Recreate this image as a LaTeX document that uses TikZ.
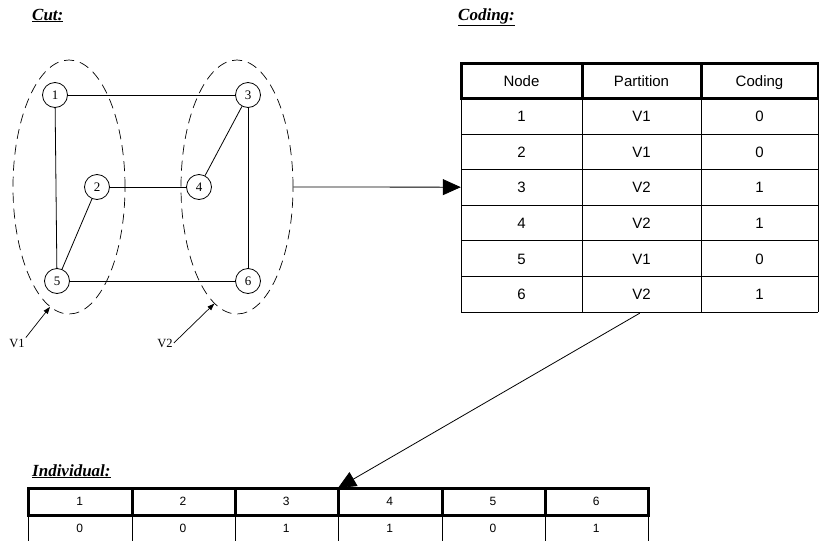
\documentclass[tikz,border=0pt]{standalone}
\usepackage{fontspec}
\setmainfont{Liberation Serif}
\newfontfamily\tabfont{Liberation Sans}
\usetikzlibrary{arrows.meta,shapes.geometric}
\begin{document}
\begin{tikzpicture}[x=1pt,y=-1pt,
  vert/.style={circle,draw,line width=0.8pt,minimum size=25pt,inner sep=0pt,text height=8.6pt,text depth=0pt,font=\fontsize{13}{13}\selectfont},
  edge/.style={line width=0.8pt},
  part/.style={ellipse,draw,dash pattern=on 10pt off 6pt,line width=0.7pt,inner sep=0pt},
  ttl/.style={anchor=base west,inner sep=0pt,font=\fontsize{17}{17}\selectfont\bfseries\itshape},
  cell/.style={inner sep=0pt,text height=11pt,text depth=0pt,font=\tabfont\fontsize{15}{15}\selectfont},
  icell/.style={inner sep=0pt,minimum width=103pt,minimum height=26.5pt,text height=8.8pt,text depth=0pt,font=\tabfont\fontsize{12}{12}\selectfont},
  thinline/.style={line width=1pt},
  heavy/.style={line width=3pt},
  bigarr/.style={-{Triangle[length=18pt,width=16pt]},line width=0.8pt},
  smallarr/.style={-{Triangle[length=7pt,width=5pt]},line width=0.7pt},
  lbl/.style={inner sep=1pt,font=\fontsize{12.5}{12.5}\selectfont}
]
\useasboundingbox (0,0) rectangle (819,541);

% titles
\node[ttl] (tcut) at (32,20) {\underline{Cut:}};
\node[ttl] (tcod) at (458,20) {\underline{Coding:}};
\node[ttl] (tind) at (32,476) {\underline{Individual:}};

% partitions
\node[part,minimum width=112pt,minimum height=254pt] (P1) at (69,187) {};
\node[part,minimum width=112pt,minimum height=254pt] (P2) at (237,187) {};

% graph nodes
\node[vert] (g1) at (55,95) {1};
\node[vert] (g3) at (248,95) {3};
\node[vert] (g2) at (97,187) {2};
\node[vert] (g4) at (199,187) {4};
\node[vert] (g5) at (57,281) {5};
\node[vert] (g6) at (248,281) {6};
\draw[edge] (g1) -- (g3);
\draw[edge] (g1) -- (g5);
\draw[edge] (g2) -- (g4);
\draw[edge] (g2) -- (g5);
\draw[edge] (g3) -- (g4);
\draw[edge] (g3) -- (g6);
\draw[edge] (g5) -- (g6);

% labels V1 V2
\node[lbl] (v1) at (17,343) {V1};
\node[lbl] (v2) at (165,343) {V2};
\draw[smallarr] (v1.north east) -- (P1.261);
\draw[smallarr] (v2.east) -- (P2.259);

% coding table
\draw[thinline] (461,98) -- (461,312) (582,98) -- (582,312) (701,98) -- (701,312) (818,98) -- (818,312);
\foreach \yy in {134,169.5,205,240.5,276,312}
  \draw[thinline] (461,\yy) -- (818,\yy);
\draw[heavy] (461,63) rectangle (818,98);
\draw[heavy] (582,63) -- (582,98) (701,63) -- (701,98);
\node[cell] (hn) at (521.5,81) {Node};
\node[cell] (hp) at (641.5,81) {Partition};
\node[cell] (hc) at (759.5,81) {Coding};
\foreach \r/\pp/\cc in {1/V1/0,2/V1/0,3/V2/1,4/V2/1,5/V1/0,6/V2/1}{
  \pgfmathsetmacro\yc{98+35.667*(\r-0.5)}
  \node[cell,minimum width=121pt,minimum height=35.6pt] (n\r) at (521.5,\yc) {\r};
  \node[cell,minimum width=119pt,minimum height=35.6pt] (p\r) at (641.5,\yc) {\pp};
  \node[cell,minimum width=117pt,minimum height=35.6pt] (c\r) at (759.5,\yc) {\cc};
}

% individual table
\draw[heavy] (28,488) rectangle (648,515);
\foreach \xx in {132,235,338,442,545}
  \draw[heavy] (\xx,488) -- (\xx,515);
\foreach \xx in {28,132,235,338,442,545,648}
  \draw[thinline] (\xx,515) -- (\xx,541);
\foreach \i/\v in {1/0,2/0,3/1,4/1,5/0,6/1}{
  \pgfmathsetmacro\xc{28+103.33*(\i-0.5)}
  \node[icell] (i\i) at (\xc,501.5) {\i};
  \node[icell] (j\i) at (\xc,528) {\v};
}

% arrows
\draw[bigarr] (P2.east) -- (n3.west);
\draw[bigarr,shorten <=2pt] (p6.south) -- (i4.north west);
\end{tikzpicture}
\end{document}
